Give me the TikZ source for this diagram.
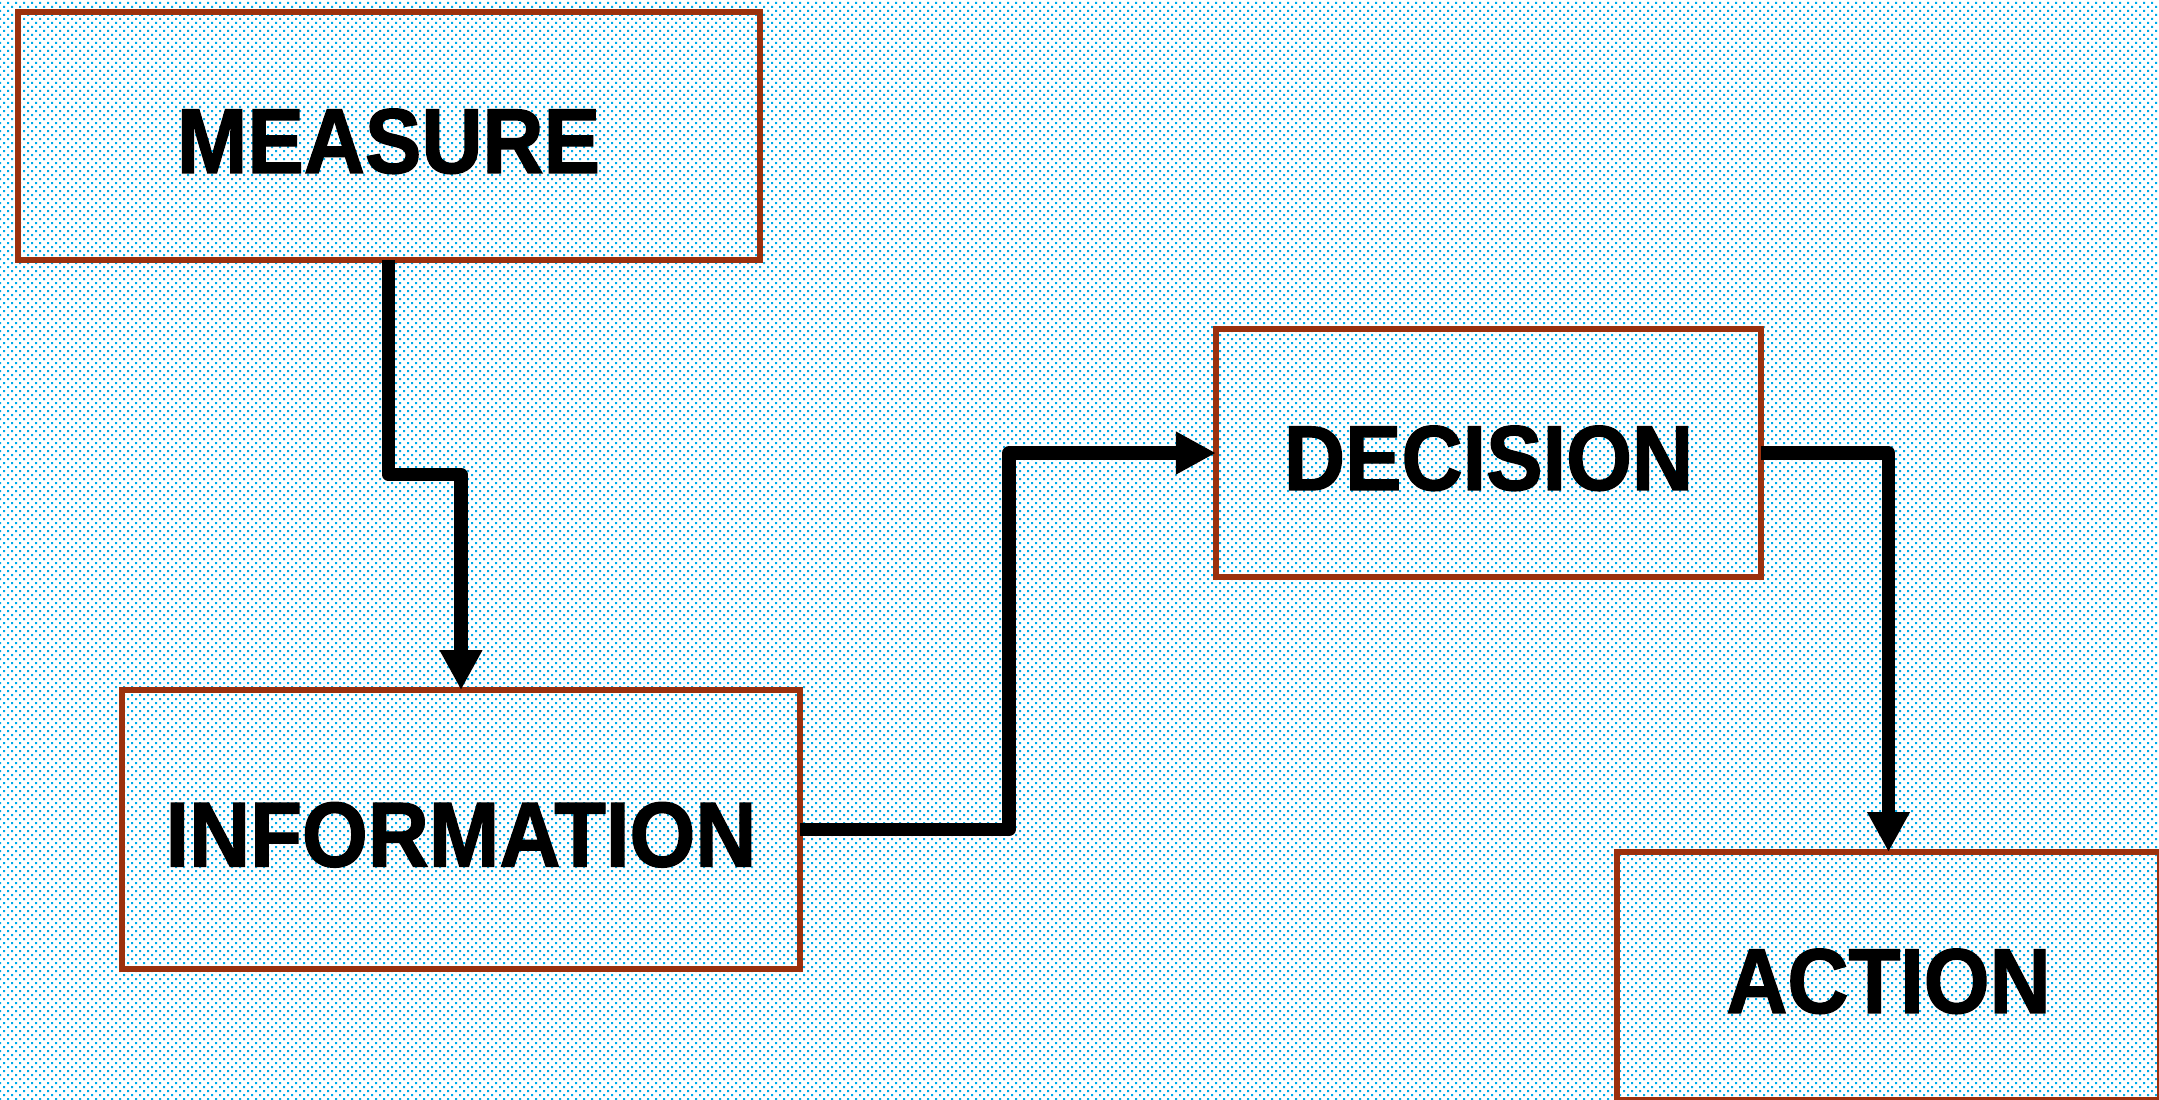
\documentclass[tikz,border=0pt]{standalone}
\usepackage{fontspec}
\newfontfamily\boxfont[FakeStretch=0.92,FakeBold=1.5]{Liberation Sans Bold}
\usetikzlibrary{arrows.meta,patterns}
\definecolor{dotcyan}{RGB}{0,170,232}
\definecolor{boxred}{RGB}{155,49,14}
\pgfdeclarepatternformonly{bgdots}{\pgfqpoint{-1pt}{-1pt}}{\pgfqpoint{4pt}{4pt}}{\pgfqpoint{3pt}{3pt}}{%
  \pgfpathrectangle{\pgfqpoint{-0.375pt}{-0.375pt}}{\pgfqpoint{0.75pt}{0.75pt}}%
  \pgfpathrectangle{\pgfqpoint{1.125pt}{1.125pt}}{\pgfqpoint{0.75pt}{0.75pt}}%
  \pgfusepath{fill}%
}
\tikzset{
  stagebox/.style={draw=boxred, line width=2.25pt, inner sep=0pt, outer sep=0pt,
    font=\boxfont\fontsize{34.5}{40}\selectfont, text=black,
    text height=27.7pt, text depth=0pt},
  conn/.style={line width=5pt, line join=round, draw=black,
    -{Triangle[length=15pt,width=15pt]}}
}
\begin{document}
\begin{tikzpicture}[x=0.375pt, y=-0.375pt]
\fill[white] (0,0) rectangle (2159,1099);
\fill[pattern=bgdots, pattern color=dotcyan] (0,0) rectangle (2159,1099);
\useasboundingbox (0,0) rectangle (2159,1099);
\clip (0,0) rectangle (2159,1099);

\node[stagebox, minimum width=278.25pt, minimum height=93pt] (m) at (388.5,136) {MEASURE};
\node[stagebox, minimum width=254.25pt, minimum height=104.6pt] (i) at (461,829.5) {INFORMATION};
\node[stagebox, minimum width=204.4pt, minimum height=93pt] (d) at (1488.5,453) {DECISION};
\node[stagebox, minimum width=203.6pt, minimum height=93pt] (a) at (1888.5,976) {ACTION};

\draw[conn] (m.south) -- ++(0,214.5) -| (i.north);
\draw[conn] (i.east) -- ++(209,0) |- (d.west);
\draw[conn] (d.east) -| (a.north);
\end{tikzpicture}
\end{document}
